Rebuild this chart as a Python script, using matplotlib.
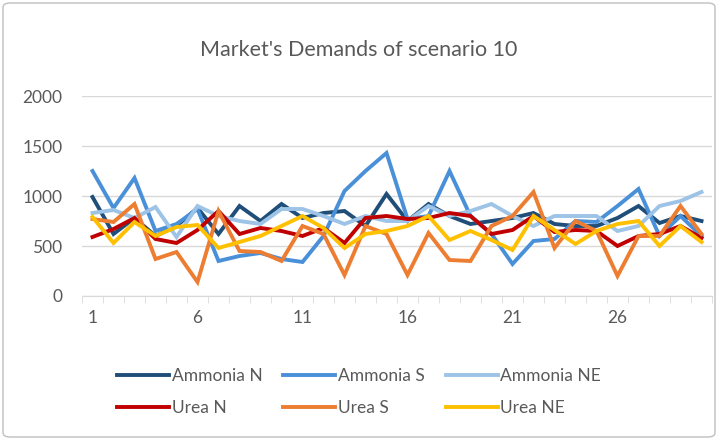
import numpy as np
import matplotlib
matplotlib.use('Agg')
import matplotlib.pyplot as plt
from matplotlib.patches import FancyBboxPatch

plt.rcParams['font.family'] = ['Lato', 'DejaVu Sans']

# demand per period for each product / region
periods = list(range(1, 31))
ammonia_n = [990, 620, 780, 600, 700, 880, 620, 900, 750, 920, 780, 830, 850, 700, 1020,
             750, 920, 800, 720, 750, 780, 830, 720, 700, 700, 780, 900, 730, 800, 750]
ammonia_s = [1250, 880, 1180, 650, 720, 870, 350, 400, 430, 370, 340, 600, 1050, 1250, 1430,
             770, 800, 1250, 800, 620, 320, 550, 570, 750, 740, 900, 1070, 600, 800, 600]
ammonia_ne = [830, 860, 780, 890, 590, 900, 800, 750, 720, 870, 870, 800, 720, 800, 750,
              750, 900, 800, 850, 920, 800, 700, 800, 800, 800, 650, 700, 900, 950, 1040]
urea_n = [590, 670, 780, 570, 530, 660, 850, 620, 680, 650, 600, 680, 530, 780, 800,
          770, 780, 830, 800, 620, 660, 800, 640, 660, 650, 500, 600, 620, 700, 580]
urea_s = [770, 740, 920, 370, 440, 140, 850, 450, 440, 350, 700, 620, 210, 700, 620,
          210, 630, 360, 350, 700, 800, 1040, 480, 750, 650, 200, 600, 600, 900, 620]
urea_ne = [790, 530, 740, 600, 690, 710, 480, 540, 600, 700, 800, 680, 480, 620, 650,
           700, 800, 560, 650, 560, 460, 800, 660, 520, 650, 720, 750, 500, 700, 540]

series = [
    ('Ammonia N', ammonia_n, '#1f4e79'),
    ('Ammonia S', ammonia_s, '#4a90d9'),
    ('Ammonia NE', ammonia_ne, '#9dc3e6'),
    ('Urea N', urea_n, '#c00000'),
    ('Urea S', urea_s, '#ed7d31'),
    ('Urea NE', urea_ne, '#ffc000'),
]

fig = plt.figure(figsize=(7.18, 4.40), dpi=100)
ax = fig.add_axes([82 / 718, 1 - 296 / 440, 630 / 718, 200 / 440])

lines = []
for name, vals, col in series:
    ln, = ax.plot(periods, vals, color=col, lw=2.8, label=name, solid_joinstyle='miter')
    lines.append(ln)

ax.set_xlim(0.5, 30.5)
ax.set_ylim(0, 2000)
ax.set_yticks(np.arange(0, 2001, 500))
ax.set_xticks([1, 6, 11, 16, 21, 26])
ax.set_xticks(np.arange(0.5, 31, 1), minor=True)
ax.grid(axis='y', color='#d9d9d9', lw=1)
ax.set_axisbelow(True)
for s in ['top', 'right', 'left']:
    ax.spines[s].set_visible(False)
ax.spines['bottom'].set_color('#d9d9d9')
ax.tick_params(axis='y', length=0, pad=14, labelsize=12.5, labelcolor='#595959')
ax.tick_params(axis='x', which='major', length=0, pad=10, labelsize=12.5, labelcolor='#595959')
ax.tick_params(axis='x', which='minor', length=5, color='#d9d9d9')

fig.text(0.5, 1 - 50 / 440, "Market's Demands of scenario 10", ha='center', va='center',
         fontsize=15.5, color='#595959')

# legend fills column by column, so interleave to get rows of Ammonia / Urea
order = [0, 3, 1, 4, 2, 5]
fig.legend([lines[i] for i in order], [series[i][0] for i in order],
           loc='center', bbox_to_anchor=(0.5, 1 - 392 / 440), ncol=3, frameon=False,
           fontsize=12.5, handlelength=3.0, handletextpad=0.15, columnspacing=1.2,
           labelspacing=0.9, labelcolor='#595959')

border = FancyBboxPatch((3 / 718, 3 / 440), 712 / 718, 434 / 440,
                        boxstyle='round,pad=0,rounding_size=0.01',
                        transform=fig.transFigure, fill=False, ec='#bfbfbf', lw=1)
fig.patches.append(border)

fig.savefig('out.png', dpi=100)
